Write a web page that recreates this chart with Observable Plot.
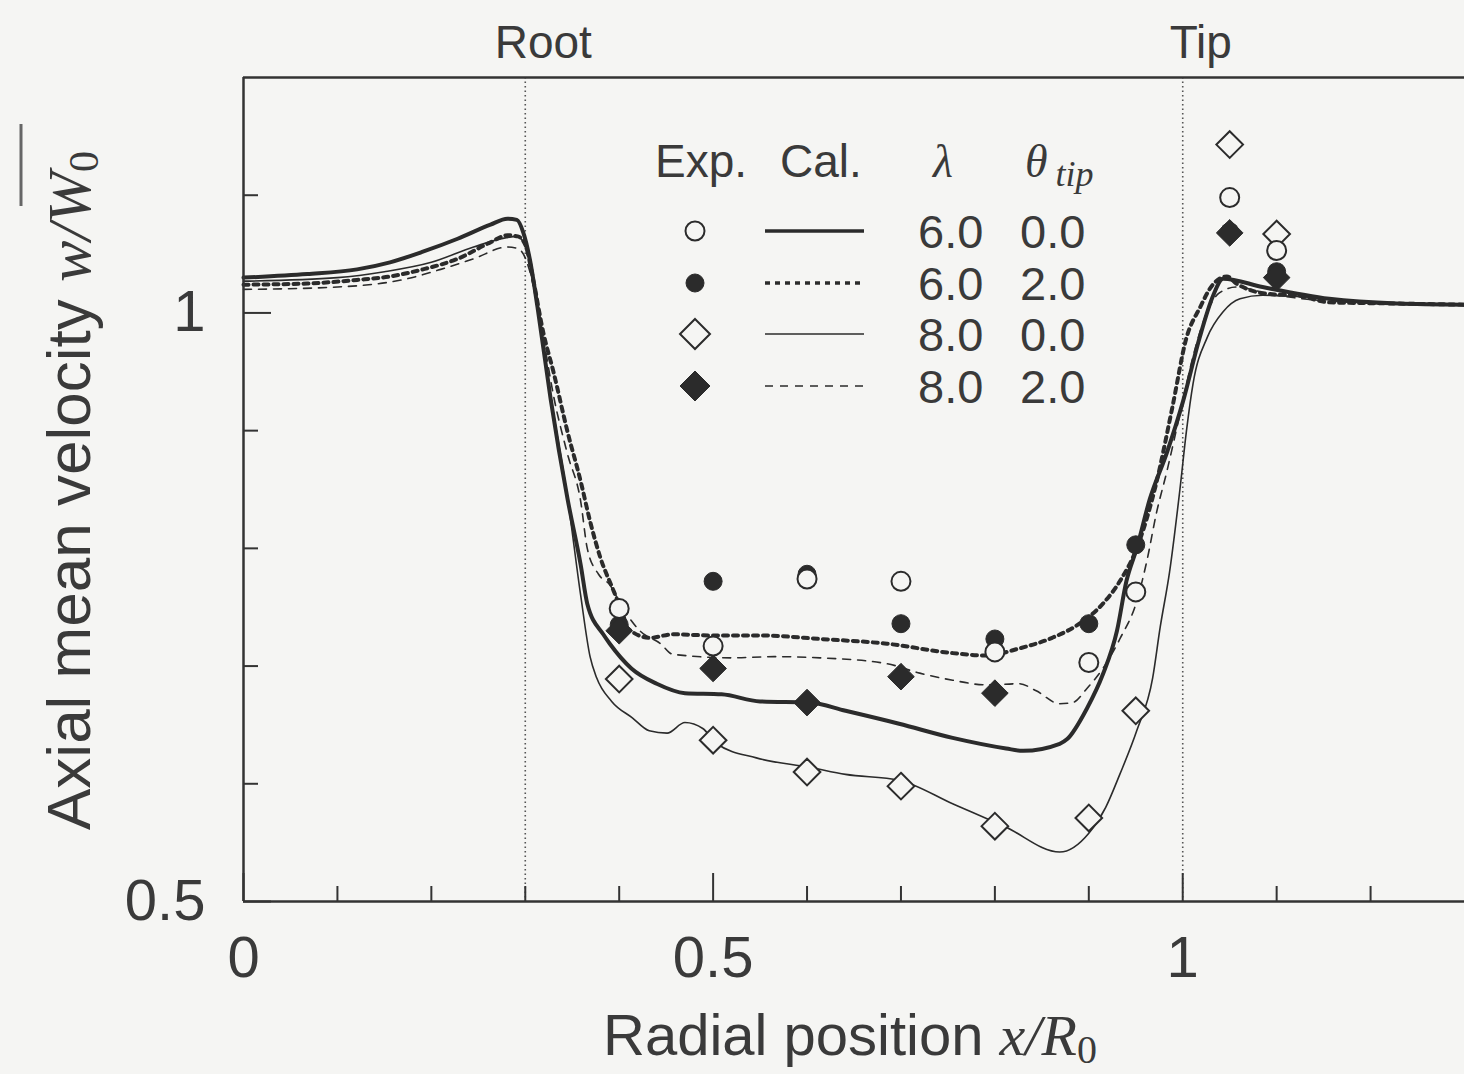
<!DOCTYPE html>
<html><head><meta charset="utf-8">
<script src="https://cdn.jsdelivr.net/npm/d3@7"></script>
<script src="https://cdn.jsdelivr.net/npm/@observablehq/plot@0.6"></script>
<style>
html,body{margin:0;padding:0;background:#f5f5f3;overflow:hidden}
#wrap{position:relative;width:1464px;height:1074px;font-family:"Liberation Sans",Arial,Helvetica,sans-serif}
#wrap svg{position:absolute;left:0;top:0}
</style></head><body><div id="wrap"></div>
<script>
// ---------------- data ----------------
const seriesNames  = ["l6t0", "l6t2", "l8t0", "l8t2"];
const lambdaLabels = ["6.0", "6.0", "8.0", "8.0"];
const thetaLabels  = ["0.0", "2.0", "0.0", "2.0"];

// experimental points (x/R0)
const expX    = [0.40, 0.50, 0.60, 0.70, 0.80, 0.90, 0.95, 1.05, 1.10];
const expL6T0 = [0.749, 0.717, 0.774, 0.772, 0.712, 0.703, 0.763, 1.098, 1.053];
const expL6T2 = [0.735, 0.772, 0.778, 0.736, 0.723, 0.736, 0.803, 1.069, 1.035];
const expL8T0 = [0.689, 0.637, 0.610, 0.598, 0.564, 0.571, 0.662, 1.143, 1.067];
const expL8T2 = [0.730, 0.698, 0.669, 0.691, 0.677, null, null, 1.068, 1.030];

// calculated curves
const calL6T0x = [0, 0.068, 0.121, 0.156, 0.191, 0.228, 0.263, 0.281, 0.291, 0.298, 0.305, 0.313, 0.327, 0.345, 0.359, 0.366, 0.383, 0.39, 0.413, 0.44, 0.47, 0.509, 0.55, 0.603, 0.641, 0.698, 0.755, 0.812, 0.83, 0.869, 0.877, 0.898, 0.915, 0.93, 0.94, 0.951, 0.965, 0.983, 1.0, 1.018, 1.032, 1.043, 1.085, 1.156, 1.228, 1.3];
const calL6T0y = [1.030, 1.033, 1.037, 1.043, 1.052, 1.063, 1.075, 1.080, 1.079, 1.068, 1.045, 1.005, 0.927, 0.842, 0.786, 0.753, 0.727, 0.719, 0.698, 0.685, 0.677, 0.676, 0.670, 0.669, 0.662, 0.651, 0.639, 0.630, 0.628, 0.634, 0.638, 0.664, 0.693, 0.730, 0.772, 0.800, 0.842, 0.881, 0.924, 0.979, 1.014, 1.029, 1.022, 1.012, 1.008, 1.007];

const calL6T2x = [0, 0.068, 0.121, 0.156, 0.191, 0.228, 0.263, 0.281, 0.292, 0.3, 0.309, 0.319, 0.33, 0.345, 0.359, 0.369, 0.38, 0.394, 0.404, 0.409, 0.433, 0.457, 0.5, 0.55, 0.614, 0.685, 0.755, 0.791, 0.826, 0.861, 0.89, 0.915, 0.933, 0.951, 0.972, 0.989, 1.004, 1.018, 1.032, 1.047, 1.057, 1.093, 1.121, 1.156, 1.228, 1.3];
const calL6T2y = [1.024, 1.025, 1.028, 1.031, 1.037, 1.046, 1.060, 1.066, 1.065, 1.058, 1.026, 0.984, 0.950, 0.899, 0.857, 0.823, 0.792, 0.764, 0.744, 0.732, 0.724, 0.727, 0.726, 0.726, 0.723, 0.719, 0.711, 0.709, 0.715, 0.724, 0.736, 0.753, 0.772, 0.800, 0.856, 0.920, 0.979, 1.004, 1.024, 1.031, 1.025, 1.016, 1.015, 1.009, 1.008, 1.007];

const calL8T0x = [0, 0.1, 0.15, 0.2, 0.245, 0.28, 0.291, 0.298, 0.305, 0.313, 0.327, 0.345, 0.359, 0.369, 0.376, 0.392, 0.414, 0.432, 0.451, 0.47, 0.489, 0.504, 0.546, 0.603, 0.641, 0.698, 0.755, 0.812, 0.869, 0.9, 0.918, 0.933, 0.951, 0.968, 0.976, 0.986, 0.997, 1.004, 1.011, 1.026, 1.043, 1.061, 1.085, 1.121, 1.156, 1.228, 1.3];
const calL8T0y = [1.027, 1.030, 1.035, 1.043, 1.056, 1.064, 1.065, 1.060, 1.042, 1.008, 0.930, 0.843, 0.760, 0.708, 0.690, 0.670, 0.656, 0.645, 0.643, 0.652, 0.647, 0.634, 0.622, 0.614, 0.608, 0.603, 0.583, 0.563, 0.542, 0.558, 0.580, 0.608, 0.645, 0.690, 0.733, 0.780, 0.850, 0.900, 0.940, 0.979, 1.001, 1.012, 1.015, 1.014, 1.012, 1.008, 1.007];

const calL8T2x = [0, 0.1, 0.174, 0.21, 0.245, 0.281, 0.291, 0.298, 0.305, 0.319, 0.33, 0.345, 0.359, 0.366, 0.378, 0.39, 0.404, 0.422, 0.444, 0.457, 0.521, 0.565, 0.614, 0.685, 0.72, 0.755, 0.791, 0.826, 0.844, 0.869, 0.883, 0.898, 0.915, 0.933, 0.951, 0.962, 0.972, 0.983, 0.997, 1.011, 1.026, 1.039, 1.057, 1.093, 1.156, 1.228, 1.3];
const calL8T2y = [1.020, 1.022, 1.029, 1.037, 1.046, 1.056, 1.055, 1.050, 1.035, 0.980, 0.930, 0.880, 0.840, 0.800, 0.778, 0.769, 0.749, 0.730, 0.719, 0.710, 0.707, 0.708, 0.707, 0.702, 0.694, 0.688, 0.684, 0.685, 0.679, 0.668, 0.669, 0.681, 0.698, 0.723, 0.755, 0.790, 0.830, 0.865, 0.914, 0.963, 1.001, 1.017, 1.022, 1.016, 1.010, 1.008, 1.007];

const guideX = [0.3, 1.0];
const guideLabels = ["Root", "Tip"];
const xMajorTicks = [0, 0.5, 1];
const xMinorTicks = [0.1, 0.2, 0.3, 0.4, 0.6, 0.7, 0.8, 0.9, 1.1, 1.2];
const yMajorTicks = [0.5, 1];
const yMinorTicks = [0.6, 0.7, 0.8, 0.9, 1.1];
const xDomain = [0, 1.3];
const yDomain = [0.5, 1.2];

// ---------------- build tables ----------------
const expSeries = [expL6T0, expL6T2, expL8T0, expL8T2];
const calSeries = [[calL6T0x, calL6T0y], [calL6T2x, calL6T2y], [calL8T0x, calL8T0y], [calL8T2x, calL8T2y]];
const expRows = {}, calRows = {};
seriesNames.forEach((s, i) => {
  expRows[s] = expX.map((x, j) => ({x, y: expSeries[i][j]})).filter(d => d.y != null);
  calRows[s] = calSeries[i][0].map((x, j) => ({x, y: calSeries[i][1][j]}));
});

// ---------------- styles ----------------
const ink = "#2b2b2b", txt = "#3a3a3a", bg = "#f5f5f3";
const lineStyle = {
  l6t0: {strokeWidth: 4},
  l6t2: {strokeWidth: 4, strokeDasharray: "5,5"},
  l8t0: {strokeWidth: 1.6},
  l8t2: {strokeWidth: 1.6, strokeDasharray: "8,7"}
};
const dotStyle = {
  l6t0: {symbol: "circle", fill: bg, stroke: ink, strokeWidth: 2, r: 9.5},
  l6t2: {symbol: "circle", fill: ink, stroke: ink, strokeWidth: 1, r: 9},
  l8t0: {symbol: "diamond2", fill: bg, stroke: ink, strokeWidth: 2, r: 12},
  l8t2: {symbol: "diamond2", fill: ink, stroke: ink, strokeWidth: 1, r: 12}
};
const dotOrder = ["l6t2", "l8t0", "l6t0", "l8t2"];
const fontFam = "Liberation Sans, Arial, Helvetica, sans-serif";

const plot = Plot.plot({
  width: 1464, height: 1074,
  marginTop: 77, marginLeft: 243, marginRight: 0, marginBottom: 173,
  x: {domain: xDomain},
  y: {domain: yDomain},
  style: {background: "transparent", color: txt, fontFamily: fontFam},
  marks: [
    Plot.ruleX(guideX, {stroke: "#555", strokeWidth: 1.6, strokeDasharray: "1.5,3"}),
    ...seriesNames.map(s => Plot.line(calRows[s], {x: "x", y: "y", stroke: ink, curve: "monotone-x", ...lineStyle[s]})),
    ...dotOrder.map(s => Plot.dot(expRows[s], {x: "x", y: "y", ...dotStyle[s]})),
    Plot.ruleY(yDomain, {stroke: "#333", strokeWidth: 2.5}),
    Plot.ruleX([xDomain[0]], {stroke: "#333", strokeWidth: 2.5}),
    Plot.axisX(xMinorTicks, {tickSize: -15, tickFormat: () => "", label: null, stroke: "#333", strokeWidth: 2}),
    Plot.axisX(xMajorTicks, {tickSize: -28, tickFormat: () => "", label: null, stroke: "#333", strokeWidth: 2}),
    Plot.axisX(xMajorTicks, {tickSize: 0, tickPadding: 34, fontSize: 58, tickFormat: d => String(d), label: null, fill: txt}),
    Plot.axisY(yMinorTicks, {tickSize: -15, tickFormat: () => "", label: null, stroke: "#333", strokeWidth: 2}),
    Plot.axisY(yMajorTicks, {tickSize: -28, tickFormat: () => "", label: null, stroke: "#333", strokeWidth: 2}),
    Plot.axisY(yMajorTicks, {tickSize: 0, tickPadding: 38, fontSize: 58, tickFormat: d => String(d), label: null, fill: txt}),
    Plot.text(guideX, {x: d => d, text: (d, i) => guideLabels[i], frameAnchor: "top", dy: -52, dx: 18, fontSize: 46, fill: txt})
  ]
});
document.getElementById("wrap").appendChild(plot);

// ---------------- overlay: titles and legend ----------------
const svg = d3.select("#wrap").append("svg")
  .attr("width", 1464).attr("height", 1074)
  .style("pointer-events", "none")
  .attr("font-family", fontFam).attr("fill", txt);
const serif = "Liberation Serif, DejaVu Serif, Times New Roman, serif";

// x title
const xt = svg.append("text").attr("x", 603).attr("y", 1055).attr("font-size", 58);
xt.append("tspan").text("Radial position ");
xt.append("tspan").attr("font-family", serif).attr("font-style", "italic").text("x/R");
xt.append("tspan").attr("font-family", serif).attr("font-size", 40).attr("dy", 8).text("0");

// y title
const yt = svg.append("text").attr("transform", "translate(90,830) rotate(-90)").attr("font-size", 62);
yt.append("tspan").text("Axial mean velocity ");
yt.append("tspan").attr("font-family", serif).attr("font-style", "italic").text("w/W");
yt.append("tspan").attr("font-family", serif).attr("font-size", 42).attr("dy", 8).text("0");
svg.append("line").attr("x1", 21).attr("x2", 21).attr("y1", 124).attr("y2", 206)
  .attr("stroke", "#666").attr("stroke-width", 3);

// legend
const lg = svg.append("g");
lg.append("text").attr("x", 655).attr("y", 177).attr("font-size", 46).text("Exp.");
lg.append("text").attr("x", 780).attr("y", 177).attr("font-size", 46).text("Cal.");
lg.append("text").attr("x", 933).attr("y", 177).attr("font-size", 46).attr("font-family", serif).attr("font-style", "italic").text("λ");
const th = lg.append("text").attr("x", 1025).attr("y", 177).attr("font-size", 46).attr("font-family", serif).attr("font-style", "italic");
th.append("tspan").text("θ");
th.append("tspan").attr("dx", 8).attr("dy", 9).attr("font-size", 36).text("tip");

const rowY = [231, 283, 334, 386];
seriesNames.forEach((s, i) => {
  const cy = rowY[i];
  const ds = dotStyle[s];
  const symType = ds.symbol === "circle" ? d3.symbolCircle : d3.symbolDiamond2;
  const size = ds.symbol === "circle" ? Math.PI * ds.r * ds.r : Math.PI * (ds.r + 1.5) * (ds.r + 1.5);
  lg.append("path").attr("transform", `translate(695,${cy})`)
    .attr("d", d3.symbol(symType, size)())
    .attr("fill", ds.fill).attr("stroke", ds.stroke).attr("stroke-width", ds.strokeWidth);
  const ls = lineStyle[s];
  lg.append("line").attr("x1", 765).attr("x2", 864).attr("y1", cy).attr("y2", cy)
    .attr("stroke", ink).attr("stroke-width", ls.strokeWidth === 4 ? 3.5 : 1.6)
    .attr("stroke-dasharray", ls.strokeDasharray || null);
  lg.append("text").attr("x", 918).attr("y", cy + 17).attr("font-size", 47).text(lambdaLabels[i]);
  lg.append("text").attr("x", 1020).attr("y", cy + 17).attr("font-size", 47).text(thetaLabels[i]);
});
</script></body></html>
